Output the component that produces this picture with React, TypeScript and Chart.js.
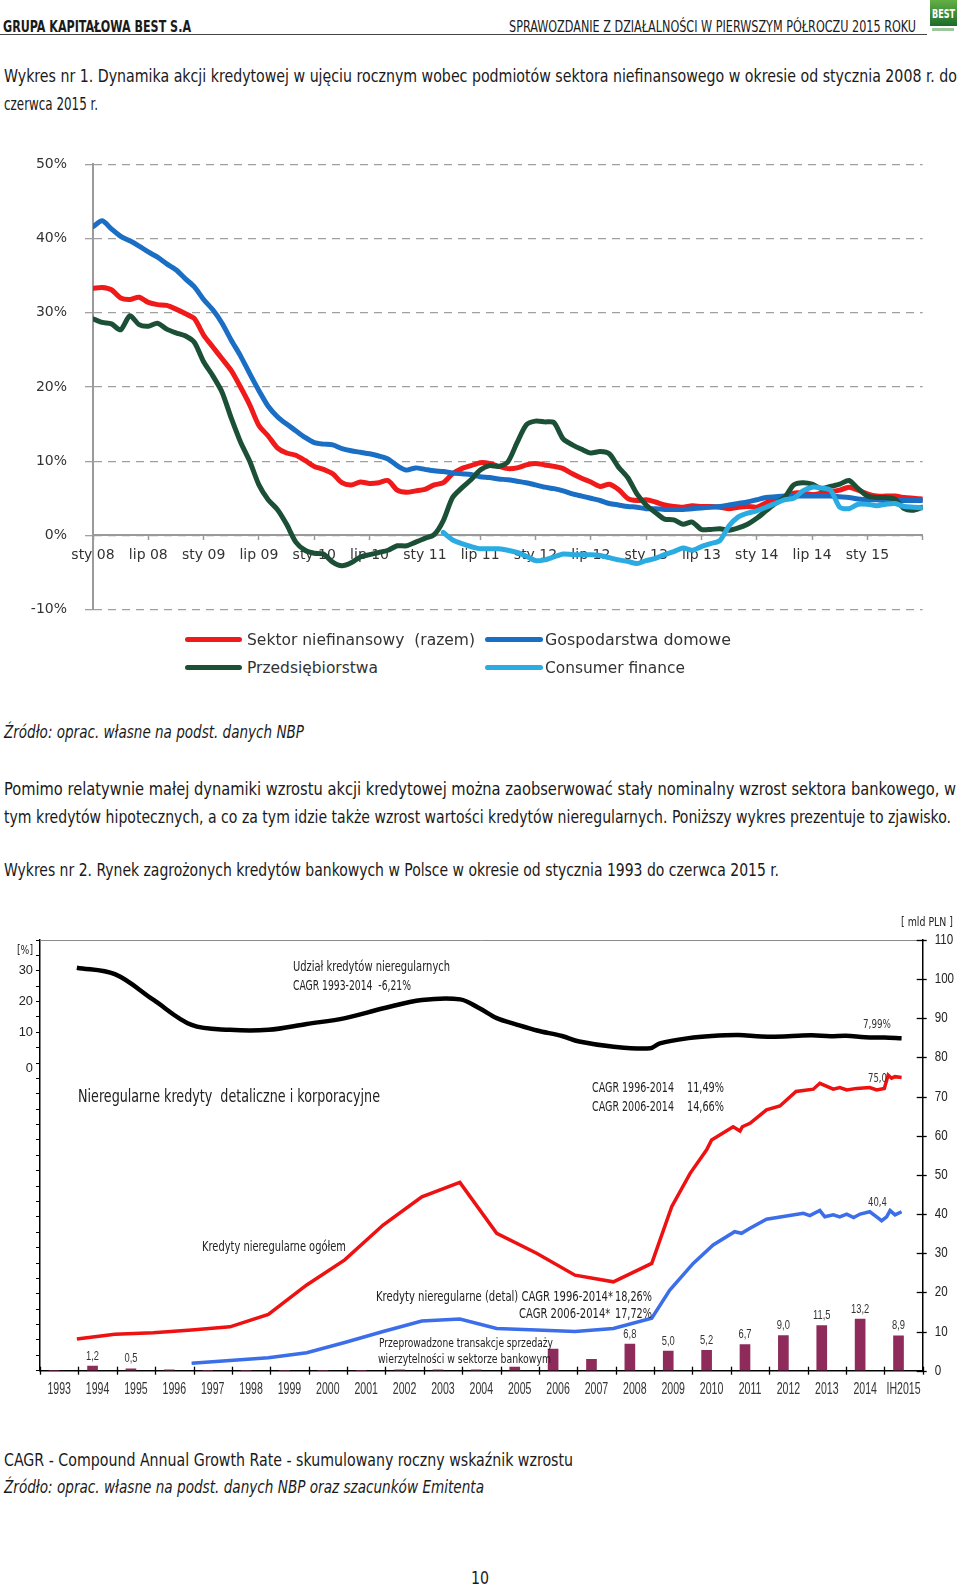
import React, { useEffect, useLayoutEffect, useRef } from 'react';
import { Chart, registerables } from 'chart.js';
Chart.register(...registerables);

const COND = "'Liberation Sans Narrow','DejaVu Sans Condensed','Liberation Sans',sans-serif";
const CANVAS_FONT = "'Liberation Sans', Arial, sans-serif";

// ---------- Wykres 1 ----------
const c1TickLabels = ['sty 08','lip 08','sty 09','lip 09','sty 10','lip 10','sty 11','lip 11','sty 12','lip 12','sty 13','lip 13','sty 14','lip 14','sty 15'];
const c1YTicks = [-10, 0, 10, 20, 30, 40, 50];
const sektorNiefinansowy = [33.3,33.4,33.1,32.0,31.8,32.1,31.4,31.1,31.0,30.5,
29.9,29.2,27.0,25.4,23.8,22.2,20.0,17.6,14.8,13.4,
11.8,11.1,10.8,10.1,9.3,8.9,8.3,7.1,6.8,7.2,
7.0,7.1,7.4,6.1,5.8,6.0,6.2,6.8,7.1,8.3,
9.0,9.4,9.8,9.7,9.3,9.0,9.1,9.5,9.7,9.5,
9.3,9.0,8.3,7.7,7.2,6.6,6.9,6.2,5.0,4.7,
4.8,4.5,4.1,3.9,3.8,4.0,3.9,3.9,3.8,3.6,
3.8,3.9,3.8,4.4,4.9,5.1,5.7,5.7,5.5,5.7,
5.9,6.1,6.5,6.1,5.6,5.3,5.3,5.3,5.1,5.0,
4.9];
const gospodarstwaDomowe = [41.6,42.4,41.3,40.3,39.7,39.0,38.2,37.5,36.6,35.8,
34.6,33.5,31.8,30.4,28.6,26.3,24.2,21.8,19.5,17.4,
16.0,15.0,14.1,13.2,12.5,12.3,12.2,11.7,11.4,11.2,
11.0,10.7,10.3,9.4,8.8,9.1,8.9,8.7,8.6,8.4,
8.3,8.2,7.9,7.8,7.6,7.5,7.3,7.1,6.8,6.5,
6.3,6.0,5.6,5.3,5.0,4.7,4.3,4.1,3.9,3.8,
3.6,3.6,3.5,3.5,3.5,3.6,3.7,3.8,3.9,4.1,
4.3,4.5,4.8,5.1,5.2,5.3,5.3,5.3,5.3,5.3,
5.3,5.2,5.1,4.9,4.8,4.8,4.7,4.7,4.7,4.7,
4.7];
const przedsiebiorstwa = [29.2,28.7,28.5,27.7,29.6,28.4,28.2,28.6,27.8,27.3,
26.9,26.0,23.4,21.5,19.3,15.8,12.6,10.0,6.8,4.8,
3.5,1.5,-0.9,-2.0,-2.4,-2.5,-3.6,-4.1,-3.7,-2.9,
-2.6,-2.3,-2.0,-1.4,-1.4,-0.9,-0.4,0.1,2.0,5.1,
6.4,7.5,8.8,9.4,9.3,9.9,12.5,14.9,15.4,15.3,
15.2,13.0,12.2,11.6,11.1,11.3,11.0,9.2,7.8,5.6,
4.1,3.1,2.2,2.1,1.5,1.8,0.8,0.8,0.9,0.7,
1.0,1.5,2.3,3.3,4.3,5.1,6.8,7.1,6.9,6.3,
6.6,6.9,7.4,6.3,5.3,5.1,5.1,4.9,3.6,3.4,
3.8];
const consumerFinanceStart = 38; // marzec 2011
const consumerFinance = [0.4,-0.6,-1.1,-1.5,-1.8,-1.8,-1.8,-2.0,-2.3,-2.8,
-3.4,-3.3,-2.9,-2.5,-2.6,-2.6,-2.6,-2.7,-3.0,-3.3,
-3.5,-3.8,-3.4,-3.1,-2.6,-2.2,-1.7,-2.0,-1.5,-1.1,
-0.7,1.3,2.5,3.0,3.3,3.8,4.3,4.8,5.0,6.0,
6.5,6.4,6.1,3.8,3.6,4.2,4.2,4.0,4.2,4.3,
3.9,3.8,3.7];

// ---------- Wykres 2 ----------
const c2Categories = ['1993','1994','1995','1996','1997','1998','1999','2000','2001','2002','2003','2004','2005','2006','2007','2008','2009','2010','2011','2012','2013','2014','IH2015'];
const transakcjeSprzedazy = [0,1.2,0.5,0.2,0,0,0,0,0,0.2,0.2,0.2,0.9,5.5,2.9,6.8,5.0,5.2,6.7,9.0,11.5,13.2,8.9];
const transakcjeEtykiety = ['','1,2','0,5','','','','','','','','','','','','','6,8','5,0','5,2','6,7','9,0','11,5','13,2','8,9'];
const udzialLata = [1993.96,1994.95,1995.95,1996.95,1997.95,1998.95,1999.95,2000.95,2001.95,2002.95,2003.95,2004.45,2004.9,2005.4,2005.95,2006.6,2007.05,2007.95,2008.9,2009.15,2009.9,2010.5,2011.2,2011.8,2012.5,2013.1,2013.6,2014.0,2014.5,2015.0,2015.45];
const udzialProc = [31.0,28.9,20.6,12.4,10.8,10.8,12.7,14.6,17.8,20.5,20.7,17.8,14.6,12.6,10.6,8.8,7.0,5.3,4.8,6.4,8.1,8.8,9.1,8.6,8.7,9.0,8.7,8.9,8.4,8.3,8.1];
const ogolemLata = [1993.96,1994.95,1995.95,1996.95,1997.95,1998.95,1999.95,2000.94,2001.94,2002.95,2003.94,2004.9,2005.94,2006.94,2007.94,2008.94,2009.46,2009.94,2010.37,2010.5,2011.06,2011.24,2011.3,2011.5,2011.93,2012.28,2012.7,2013.15,2013.32,2013.67,2013.84,2014.02,2014.28,2014.62,2014.8,2015.0,2015.1,2015.19,2015.28,2015.45];
const ogolemMld = [8.1,9.3,9.7,10.4,11.2,14.4,21.9,28.3,37.2,44.4,48.1,35.1,30.0,24.4,22.7,27.4,41.9,50.4,56.4,58.9,62.3,61.2,62.3,63.2,66.6,67.6,71.3,71.9,73.4,71.9,72.3,71.7,72.1,72.3,71.7,72.1,75.5,74.7,75.1,74.9];
const detalLata = [1996.95,1997.95,1998.95,1999.95,2000.94,2001.94,2002.95,2003.94,2004.9,2005.94,2006.94,2007.94,2008.94,2009.41,2010.02,2010.54,2011.1,2011.28,2011.5,2011.93,2012.45,2012.89,2013.06,2013.32,2013.45,2013.67,2013.84,2014.02,2014.2,2014.37,2014.62,2014.8,2014.93,2015.06,2015.15,2015.28,2015.45];
const detalMld = [1.9,2.6,3.3,4.6,7.2,10.0,12.7,13.2,10.8,10.4,10.0,10.8,13.4,20.6,27.4,32.1,35.5,35.1,36.4,38.7,39.5,40.2,39.6,40.9,39.3,39.8,39.3,40.0,39.1,40.0,40.6,39.3,38.3,39.3,40.9,39.8,40.6];
const leftTicks = [0, 10, 20, 30];
const rightTicks = [0,10,20,30,40,50,60,70,80,90,100,110];

function T({ x, cy, w, size, text, bold, italic, color = '#1a1a1a', family = COND }: any) {
  const ref = useRef<HTMLDivElement>(null);
  useLayoutEffect(() => {
    const el = ref.current;
    if (!el) return;
    el.style.transform = 'none';
    const aw = el.getBoundingClientRect().width;
    if (aw > 0 && w) el.style.transform = `scaleX(${w / aw})`;
  });
  const lh = Math.round(size * 1.2);
  return (
    <div ref={ref} style={{ position: 'absolute', left: x, top: cy - size * 0.62, fontSize: size, lineHeight: lh + 'px', whiteSpace: 'pre', fontFamily: family, fontWeight: bold ? 700 : 400, fontStyle: italic ? 'italic' : 'normal', color, transformOrigin: '0 0' }}>{text}</div>
  );
}

function LegendLine({ x1, x2, cy, color }: any) {
  return <div style={{ position: 'absolute', left: x1, top: cy - 2.5, width: x2 - x1, height: 5, borderRadius: 3, background: color }} />;
}

const C_RED = '#f01a1a';
const C_BLUE = '#1a6ec4';
const C_GREEN = '#1b5037';
const C_LBLUE = '#2aabe2';

function cfg1(): any {
  const pts = (arr: number[], start = 0) => arr.map((v, i) => ({ x: i + start, y: v }));
  const tickFont = { family: "'DejaVu Sans', sans-serif", size: 14 };
  const ds = (label: string, data: any[], color: string, order: number) => ({
    label, data, borderColor: color, backgroundColor: color, borderWidth: 5, pointRadius: 0,
    tension: 0.25, borderCapStyle: 'round', borderJoinStyle: 'round', fill: false, order,
  });
  return {
    type: 'line',
    data: {
      datasets: [
        ds('Sektor niefinansowy (razem)', pts(sektorNiefinansowy), C_RED, 4),
        ds('Gospodarstwa domowe', pts(gospodarstwaDomowe), C_BLUE, 3),
        ds('Przedsiębiorstwa', pts(przedsiebiorstwa), C_GREEN, 2),
        ds('Consumer finance', pts(consumerFinance, consumerFinanceStart), C_LBLUE, 1),
      ],
    },
    options: {
      responsive: false, animation: false, devicePixelRatio: 1, events: [],
      layout: { padding: { top: 13.7, right: 37.3, bottom: 0, left: 0 } },
      plugins: { legend: { display: false }, tooltip: { enabled: false } },
      scales: {
        x: {
          type: 'linear', min: 0, max: 90, position: { y: 0 },
          afterFit: (s: any) => { s.height = 21; },
          afterBuildTicks: (s: any) => { const t = []; for (let v = 0; v <= 90; v += 6) t.push({ value: v }); s.ticks = t; },
          ticks: { autoSkip: false, maxRotation: 0, padding: 8, font: tickFont, color: '#333',
            callback: (v: any) => c1TickLabels[Math.round(Number(v) / 6)] ?? '' },
          grid: { drawOnChartArea: false, tickLength: 4, tickColor: '#9a9a9a', tickWidth: 1.5 },
          border: { color: '#9a9a9a', width: 2 },
        },
        y: {
          min: -10, max: 50,
          afterFit: (s: any) => { s.width = 93; },
          afterBuildTicks: (s: any) => { s.ticks = c1YTicks.map((v) => ({ value: v })); },
          ticks: { padding: 18, font: tickFont, color: '#333', callback: (v: any) => v + '%' },
          grid: { color: '#a0a0a0', lineWidth: 1.3, tickLength: 8, tickColor: '#a0a0a0' },
          border: { color: '#9a9a9a', width: 2, dash: [8, 6] },
        },
      },
    },
  };
}

function cfg2(): any {
  const pairs = (xs: number[], ys: number[]) => xs.map((x, i) => ({ x, y: ys[i] }));
  const drawText = (ctx: any, text: string, x: number, y: number, size: number, sx: number, align: string, color: string) => {
    ctx.save();
    ctx.translate(x, y);
    ctx.scale(sx, 1);
    ctx.font = `${size}px ${CANVAS_FONT}`;
    ctx.fillStyle = color;
    ctx.textAlign = align;
    ctx.textBaseline = 'middle';
    ctx.fillText(text, 0, 0);
    ctx.restore();
  };
  const plugin = {
    id: 'c2extras',
    afterDraw(chart: any) {
      const { ctx, chartArea } = chart;
      const x = chart.scales.x, xl = chart.scales.xl, yR = chart.scales.yR, yL = chart.scales.yL;
      ctx.save();
      // top frame line
      ctx.strokeStyle = '#8a8a8a'; ctx.lineWidth = 1;
      ctx.beginPath(); ctx.moveTo(chartArea.left, chartArea.top + 0.5); ctx.lineTo(chartArea.right, chartArea.top + 0.5); ctx.stroke();
      // crossing ticks on bottom axis
      ctx.strokeStyle = '#000'; ctx.lineWidth = 1.3;
      for (let i = 0; i <= c2Categories.length; i++) {
        const px = Math.round(xl.getPixelForValue(1993 + i)) + 0.5;
        ctx.beginPath(); ctx.moveTo(px, chartArea.bottom - 4); ctx.lineTo(px, chartArea.bottom + 4); ctx.stroke();
      }
      // crossing ticks on right axis
      rightTicks.forEach((v) => {
        const py = Math.round(yR.getPixelForValue(v)) + 0.5;
        ctx.beginPath(); ctx.moveTo(chartArea.right - 6, py); ctx.lineTo(chartArea.right + 4, py); ctx.stroke();
      });
      ctx.restore();
      // tick labels (condensed)
      c2Categories.forEach((lab, i) => drawText(ctx, lab, x.getPixelForValue(i), chartArea.bottom + 19, 16, 0.66, 'center', '#333'));
      rightTicks.forEach((v) => drawText(ctx, String(v), chartArea.right + 12, yR.getPixelForValue(v), 14.5, 0.8, 'left', '#222'));
      leftTicks.forEach((v) => drawText(ctx, String(v), chartArea.left - 7, yL.getPixelForValue(v) + (v === 0 ? 5 : 0), 13.5, 0.95, 'right', '#222'));
      // bar value labels
      const meta = chart.getDatasetMeta(0);
      meta.data.forEach((el: any, i: number) => {
        const lab = transakcjeEtykiety[i];
        if (lab) drawText(ctx, lab, el.x, el.y - 10, 13, 0.72, 'center', '#333');
      });
    },
  };
  return {
    type: 'bar',
    data: {
      labels: c2Categories,
      datasets: [
        { type: 'bar', label: 'Przeprowadzone transakcje sprzedaży wierzytelności w sektorze bankowym', data: transakcjeSprzedazy, backgroundColor: '#8e2b5b', barThickness: 10, xAxisID: 'x', yAxisID: 'yR', order: 5 },
        { type: 'line', label: 'Udział kredytów nieregularnych', data: pairs(udzialLata, udzialProc), borderColor: '#000', borderWidth: 4.5, pointRadius: 0, tension: 0.35, xAxisID: 'xl', yAxisID: 'yL', order: 1 },
        { type: 'line', label: 'Kredyty nieregularne ogółem', data: pairs(ogolemLata, ogolemMld), borderColor: '#ee1111', borderWidth: 3.5, pointRadius: 0, tension: 0, xAxisID: 'xl', yAxisID: 'yR', order: 2 },
        { type: 'line', label: 'Kredyty nieregularne (detal)', data: pairs(detalLata, detalMld), borderColor: '#3b6ee8', borderWidth: 3.5, pointRadius: 0, tension: 0, xAxisID: 'xl', yAxisID: 'yR', order: 3 },
      ],
    },
    options: {
      responsive: false, animation: false, devicePixelRatio: 1, events: [],
      layout: { padding: { top: 40, right: 0, bottom: 0, left: 0 } },
      plugins: { legend: { display: false }, tooltip: { enabled: false } },
      scales: {
        x: {
          type: 'category', offset: true, position: 'bottom',
          afterFit: (s: any) => { s.height = 39.3; },
          ticks: { display: false, autoSkip: false, maxRotation: 0 },
          grid: { drawOnChartArea: false, drawTicks: false, offset: true },
          border: { color: '#000', width: 1.5 },
        },
        xl: { type: 'linear', display: false, offset: false, min: 1993, max: 2016, grid: { offset: false } },
        yL: {
          position: 'left', min: -100, max: 40,
          afterFit: (s: any) => { s.width = 40; },
          afterBuildTicks: (s: any) => { const t = []; for (let v = -100; v <= 40; v += 5) t.push({ value: v }); s.ticks = t; },
          ticks: { display: false, autoSkip: false },
          grid: { drawOnChartArea: false, tickLength: 4, tickColor: '#000', tickWidth: 1 },
          border: { color: '#000', width: 1.5 },
        },
        yR: {
          position: 'right', min: 0, max: 110,
          afterFit: (s: any) => { s.width = 37.3; },
          afterBuildTicks: (s: any) => { s.ticks = rightTicks.map((v) => ({ value: v })); },
          ticks: { display: false, autoSkip: false },
          grid: { drawOnChartArea: false, drawTicks: false },
          border: { color: '#000', width: 1.5 },
        },
      },
    },
    plugins: [plugin],
  };
}

export default function App() {
  const c1 = useRef<HTMLCanvasElement>(null);
  const c2 = useRef<HTMLCanvasElement>(null);
  useEffect(() => {
    const ch1 = new Chart(c1.current as any, cfg1());
    const ch2 = new Chart(c2.current as any, cfg2());
    return () => { ch1.destroy(); ch2.destroy(); };
  }, []);
  const LF = "'DejaVu Sans', sans-serif";
  return (
    <div style={{ position: 'absolute', left: 0, top: 0, width: 960, height: 1589, background: '#fff', overflow: 'hidden' }}>
      {/* header */}
      <T x={3} cy={27} w={188} size={16} bold text="GRUPA KAPITAŁOWA BEST S.A" />
      <T x={509} cy={27} w={407} size={16} text="SPRAWOZDANIE Z DZIAŁALNOŚCI W PIERWSZYM PÓŁROCZU 2015 ROKU" />
      <div style={{ position: 'absolute', left: 0, top: 34, width: 927, height: 1, background: '#444' }} />
      <div style={{ position: 'absolute', left: 930, top: 0, width: 27, height: 26, background: 'linear-gradient(#63b046,#1d6b2b)' }} />
      <T x={932} cy={14} w={23} size={13} bold color="#fff" text="BEST" />
      <div style={{ position: 'absolute', left: 932, top: 28, width: 22, height: 3, background: '#9bc79b' }} />

      <T x={4} cy={76} w={953} size={18} text="Wykres nr 1. Dynamika akcji kredytowej w ujęciu rocznym wobec podmiotów sektora niefinansowego w okresie od stycznia 2008 r. do" />
      <T x={4} cy={104} w={94} size={18} text="czerwca 2015 r." />

      <canvas ref={c1} width={960} height={498} style={{ position: 'absolute', left: 0, top: 138, width: 960, height: 498 }} />

      {/* legend chart 1 */}
      <LegendLine x1={185} x2={242} cy={639} color={C_RED} />
      <T x={247} cy={640} w={228} size={15} family={LF} color="#333" text="Sektor niefinansowy  (razem)" />
      <LegendLine x1={485} x2={543} cy={639} color={C_BLUE} />
      <T x={545} cy={640} w={186} size={15} family={LF} color="#333" text="Gospodarstwa domowe" />
      <LegendLine x1={185} x2={242} cy={667} color={C_GREEN} />
      <T x={247} cy={668} w={131} size={15} family={LF} color="#333" text="Przedsiębiorstwa" />
      <LegendLine x1={485} x2={543} cy={667} color={C_LBLUE} />
      <T x={545} cy={668} w={140} size={15} family={LF} color="#333" text="Consumer finance" />

      <T x={4} cy={732} w={300} size={18} italic text="Źródło: oprac. własne na podst. danych NBP" />
      <T x={4} cy={789} w={952} size={18} text="Pomimo relatywnie małej dynamiki wzrostu akcji kredytowej można zaobserwować stały nominalny wzrost sektora bankowego, w" />
      <T x={4} cy={817} w={947} size={18} text="tym kredytów hipotecznych, a co za tym idzie także wzrost wartości kredytów nieregularnych. Poniższy wykres prezentuje to zjawisko." />
      <T x={4} cy={870} w={775} size={18} text="Wykres nr 2. Rynek zagrożonych kredytów bankowych w Polsce w okresie od stycznia 1993 do czerwca 2015 r." />

      <canvas ref={c2} width={960} height={510} style={{ position: 'absolute', left: 0, top: 900, width: 960, height: 510 }} />

      {/* annotations chart 2 */}
      <T x={17} cy={950} w={16} size={13} color="#222" text="[%]" />
      <T x={901} cy={921.7} w={52} size={13} color="#222" text="[ mld PLN ]" />
      <T x={293} cy={966.7} w={157} size={13.5} color="#222" text="Udział kredytów nieregularnych" />
      <T x={293} cy={985} w={118} size={13.5} color="#222" text="CAGR 1993-2014  -6,21%" />
      <T x={78} cy={1096} w={302} size={18} color="#222" text="Nieregularne kredyty  detaliczne i korporacyjne" />
      <T x={863} cy={1024} w={28} size={11.5} color="#333" text="7,99%" />
      <T x={868} cy={1077.7} w={19} size={11.5} color="#333" text="75,0" />
      <T x={591.7} cy={1087.7} w={82} size={14} color="#222" text="CAGR 1996-2014" />
      <T x={687.3} cy={1087.7} w={37} size={14} color="#222" text="11,49%" />
      <T x={591.7} cy={1106.7} w={82} size={14} color="#222" text="CAGR 2006-2014" />
      <T x={687.3} cy={1106.7} w={37} size={14} color="#222" text="14,66%" />
      <T x={202.3} cy={1246.7} w={144} size={14} color="#222" text="Kredyty nieregularne ogółem" />
      <T x={375.7} cy={1296.7} w={237} size={14} color="#222" text="Kredyty nieregularne (detal) CAGR 1996-2014*" />
      <T x={615} cy={1296.7} w={37} size={14} color="#222" text="18,26%" />
      <T x={519.3} cy={1314} w={91.3} size={14} color="#222" text="CAGR 2006-2014*" />
      <T x={615} cy={1314} w={37} size={14} color="#222" text="17,72%" />
      <T x={379} cy={1342.7} w={174} size={12.5} color="#222" text="Przeprowadzone transakcje sprzedaży" />
      <T x={378.3} cy={1358.3} w={173} size={12.5} color="#222" text="wierzytelności w sektorze bankowym" />
      <T x={868.3} cy={1201.7} w={19} size={11.5} color="#333" text="40,4" />

      <T x={4} cy={1460} w={569} size={18} text="CAGR - Compound Annual Growth Rate - skumulowany roczny wskaźnik wzrostu" />
      <T x={4} cy={1487} w={480} size={18} italic text="Źródło: oprac. własne na podst. danych NBP oraz szacunków Emitenta" />
      <T x={471} cy={1578} w={18} size={18} text="10" />
    </div>
  );
}
